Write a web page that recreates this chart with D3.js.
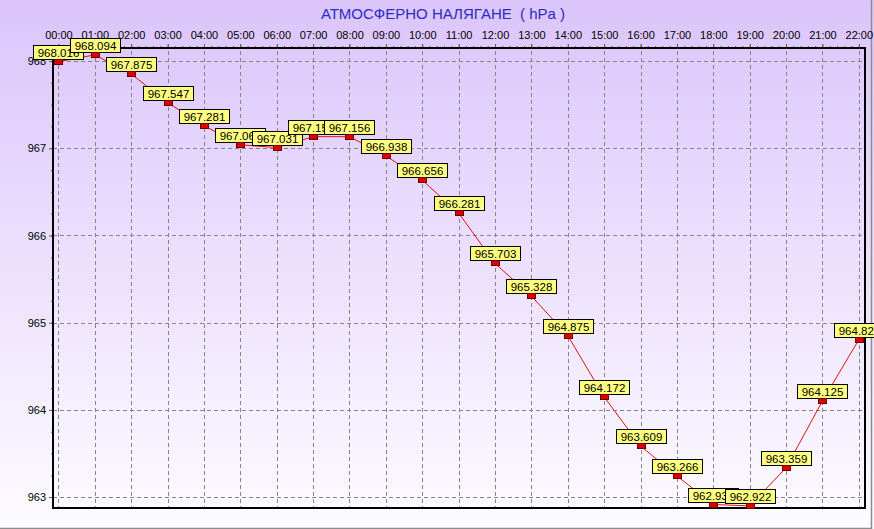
<!DOCTYPE html>
<html>
<head>
<meta charset="utf-8">
<script src="https://cdn.jsdelivr.net/npm/d3@7"></script>
<style>
  body { margin: 0; background: #fff; }
  svg { display: block; font-family: 'Liberation Sans', Arial, sans-serif; }
</style>
</head>
<body>
<svg class="chart" width="874" height="529"></svg>
<script>
// hours along the top axis
const hours = ['00:00', '01:00', '02:00', '03:00', '04:00', '05:00', '06:00', '07:00',
    '08:00', '09:00', '10:00', '11:00', '12:00', '13:00', '14:00', '15:00',
    '16:00', '17:00', '18:00', '19:00', '20:00', '21:00', '22:00'];

// pressure readings, hPa
const pressure = [968.016, 968.094, 967.875, 967.547, 967.281, 967.063, 967.031, 967.156,
    967.156, 966.938, 966.656, 966.281, 965.703, 965.328, 964.875, 964.172,
    963.609, 963.266, 962.938, 962.922, 963.359, 964.125, 964.828];

const yTicks = [963, 964, 965, 966, 967, 968];

const title = 'АТМОСФЕРНО НАЛЯГАНЕ  ( hPa )';

const data = hours.map((h, i) => ({ hour: h, index: i, value: pressure[i] }));

const svg = d3.select('.chart');
const width = +svg.attr('width');
const height = +svg.attr('height');

const plot = { left: 53, top: 48, right: 865, bottom: 508 };

// background gradient
const defs = svg.append('defs');
const grad = defs.append('linearGradient')
    .attr('id', 'bg')
    .attr('x1', 0).attr('y1', 0)
    .attr('x2', 0).attr('y2', 1);
grad.append('stop').attr('offset', '0%').attr('stop-color', '#dbc5fb');
grad.append('stop').attr('offset', '100%').attr('stop-color', '#fdfcff');

svg.append('rect')
    .attr('width', width)
    .attr('height', height)
    .attr('fill', 'url(#bg)');

// outer grey border on the right and bottom
svg.append('path')
    .attr('d', `M871.5,0V528.5H0`)
    .attr('fill', 'none')
    .attr('stroke', '#8c8c8c')
    .attr('stroke-width', 1.5);

const xScale = d3.scaleLinear()
    .domain([-0.15, 22.17])
    .range([plot.left, plot.right]);

const yScale = d3.scaleLinear()
    .domain([962.875, 968.15])
    .range([plot.bottom, plot.top]);

// dashed grid
const grid = svg.append('g')
    .attr('stroke', '#858585')
    .attr('stroke-dasharray', '4,3')
    .attr('stroke-width', 1);

grid.selectAll('.vgrid')
    .data(data)
    .join('line')
    .attr('class', 'vgrid')
    .attr('x1', d => Math.round(xScale(d.index)) + 0.5)
    .attr('x2', d => Math.round(xScale(d.index)) + 0.5)
    .attr('y1', plot.top - 4)
    .attr('y2', plot.bottom);

grid.selectAll('.hgrid')
    .data(yTicks)
    .join('line')
    .attr('class', 'hgrid')
    .attr('x1', plot.left)
    .attr('x2', plot.right)
    .attr('y1', d => Math.round(yScale(d)) + 0.5)
    .attr('y2', d => Math.round(yScale(d)) + 0.5);

// minor ticks, top axis
svg.append('g')
    .attr('transform', `translate(0, ${plot.top})`)
    .call(d3.axisTop(xScale)
        .tickValues(d3.range(0, 22.01, 0.2))
        .tickSize(2)
        .tickFormat(''))
    .call(g => g.select('.domain').remove())
    .selectAll('line').attr('stroke', '#606060');

// minor ticks, left axis
svg.append('g')
    .attr('transform', `translate(${plot.left}, 0)`)
    .call(d3.axisLeft(yScale)
        .tickValues(d3.range(963, 968.01, 0.25))
        .tickSize(2)
        .tickFormat(''))
    .call(g => g.select('.domain').remove())
    .selectAll('line').attr('stroke', '#606060');

// top axis labels
svg.append('g')
    .attr('transform', `translate(0, ${plot.top})`)
    .call(d3.axisTop(xScale)
        .tickValues(data.map(d => d.index))
        .tickFormat(i => hours[i])
        .tickSize(4)
        .tickPadding(5))
    .call(g => g.select('.domain').remove())
    .call(g => g.selectAll('line').attr('stroke', '#606060'))
    .call(g => g.selectAll('text')
        .attr('font-family', "'Liberation Sans', Arial, sans-serif")
        .attr('font-size', 11)
        .attr('fill', '#000'));

// left axis labels
svg.append('g')
    .attr('transform', `translate(${plot.left}, 0)`)
    .call(d3.axisLeft(yScale)
        .tickValues(yTicks)
        .tickFormat(d3.format('d'))
        .tickSize(4)
        .tickPadding(3))
    .call(g => g.select('.domain').remove())
    .call(g => g.selectAll('line').attr('stroke', '#606060'))
    .call(g => g.selectAll('text')
        .attr('font-family', "'Liberation Sans', Arial, sans-serif")
        .attr('font-size', 11)
        .attr('fill', '#000'));

// black frame
svg.append('rect')
    .attr('x', plot.left)
    .attr('y', plot.top)
    .attr('width', plot.right - plot.left)
    .attr('height', plot.bottom - plot.top)
    .attr('fill', 'none')
    .attr('stroke', '#000')
    .attr('stroke-width', 2);

// title
svg.append('text')
    .attr('x', 443)
    .attr('y', 19)
    .attr('text-anchor', 'middle')
    .attr('font-size', 15)
    .attr('fill', '#2a2ac4')
    .style('white-space', 'pre')
    .text(title);

// the red line
const line = d3.line()
    .x(d => xScale(d.index))
    .y(d => yScale(d.value) + 2);

svg.append('path')
    .datum(data)
    .attr('d', line)
    .attr('fill', 'none')
    .attr('stroke', '#e01010')
    .attr('stroke-width', 1);

// value boxes and markers, drawn in order so later ones overlap earlier ones
const pts = svg.append('g')
    .selectAll('g')
    .data(data)
    .join('g')
    .attr('transform', d => `translate(${Math.round(xScale(d.index))}, ${Math.round(yScale(d.value))})`);

pts.append('rect')
    .attr('x', -24.5)
    .attr('y', -14.5)
    .attr('width', 50)
    .attr('height', 14)
    .attr('fill', '#ffff80')
    .attr('stroke', '#000')
    .attr('stroke-width', 1);

pts.append('text')
    .attr('x', 0.5)
    .attr('y', -3.5)
    .attr('text-anchor', 'middle')
    .attr('font-size', 11.5)
    .attr('fill', '#000')
    .text(d => d3.format('.3f')(d.value));

pts.append('rect')
    .attr('x', -3.5)
    .attr('y', -0.5)
    .attr('width', 8)
    .attr('height', 5)
    .attr('fill', '#dd0000')
    .attr('stroke', '#700000')
    .attr('stroke-width', 1);
</script>
</body>
</html>
